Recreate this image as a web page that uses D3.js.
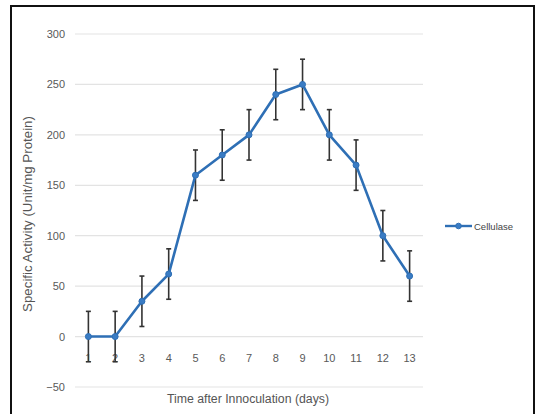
<!DOCTYPE html>
<html>
<head>
<meta charset="utf-8">
<script src="https://cdn.jsdelivr.net/npm/d3@7"></script>
<style>
  html, body { margin: 0; padding: 0; background: #fff; }
  svg { display: block; }
  text { font-family: "Liberation Sans", "DejaVu Sans", sans-serif; }
</style>
</head>
<body>
<svg id="chart" width="535" height="414"></svg>
<script>
// Cellulase specific activity over days after inoculation
const days = ["1", "2", "3", "4", "5", "6", "7", "8", "9", "10", "11", "12", "13"];
const activity = [0, 0, 35, 62, 160, 180, 200, 240, 250, 200, 170, 100, 60];
const errors = [25, 25, 25, 25, 25, 25, 25, 25, 25, 25, 25, 25, 25];
const yTicks = [-50, 0, 50, 100, 150, 200, 250, 300];
const seriesName = "Cellulase";

const svg = d3.select("#chart");

// Frame around the figure
svg.append("path")
  .attr("d", "M11,414 L11,6 L534,6 L534,414")
  .attr("fill", "none")
  .attr("stroke", "#111")
  .attr("stroke-width", 2);

const x = d3.scaleBand().domain(days).range([75, 423]);
const y = d3.scaleLinear().domain([-50, 300]).range([387, 34]);

// Horizontal gridlines
svg.append("g")
  .selectAll("line")
  .data(yTicks)
  .join("line")
  .attr("x1", 75).attr("x2", 423)
  .attr("y1", d => y(d)).attr("y2", d => y(d))
  .attr("stroke", "#e3e3e3")
  .attr("stroke-width", 1.2);

// Value axis labels
const yAxis = d3.axisLeft(y).tickValues(yTicks).tickSize(0).tickPadding(10);
const gy = svg.append("g").attr("transform", "translate(75,0)").call(yAxis);
gy.select(".domain").remove();
gy.selectAll("text").attr("fill", "#595959").attr("font-size", 11);

// Category axis labels sit just below the zero line
const xAxis = d3.axisBottom(x).tickSize(0).tickPadding(18);
const gx = svg.append("g").attr("transform", `translate(0,${y(0)})`).call(xAxis);
gx.select(".domain").remove();
gx.selectAll("text").attr("fill", "#595959").attr("font-size", 11);

const cx = (d, i) => x(days[i]) + x.bandwidth() / 2;

// Error bars
const eb = svg.append("g").attr("stroke", "#333").attr("stroke-width", 1.6);
activity.forEach((v, i) => {
  const px = cx(v, i);
  eb.append("line").attr("x1", px).attr("x2", px)
    .attr("y1", y(v - errors[i])).attr("y2", y(v + errors[i]));
  eb.append("line").attr("x1", px - 2.5).attr("x2", px + 2.5)
    .attr("y1", y(v - errors[i])).attr("y2", y(v - errors[i]));
  eb.append("line").attr("x1", px - 2.5).attr("x2", px + 2.5)
    .attr("y1", y(v + errors[i])).attr("y2", y(v + errors[i]));
});

// Series line and markers
const line = d3.line().x(cx).y(d => y(d));
svg.append("path")
  .datum(activity)
  .attr("d", line)
  .attr("fill", "none")
  .attr("stroke", "#2e6fb5")
  .attr("stroke-width", 2.6)
  .attr("stroke-linejoin", "round");

svg.append("g")
  .selectAll("circle")
  .data(activity)
  .join("circle")
  .attr("cx", cx)
  .attr("cy", d => y(d))
  .attr("r", 3)
  .attr("fill", "#3a7cc4")
  .attr("stroke", "#2e6fb5");

// Legend
const lg = svg.append("g").attr("transform", "translate(445,226)");
lg.append("line").attr("x1", 0).attr("x2", 27).attr("y1", 0).attr("y2", 0)
  .attr("stroke", "#2e6fb5").attr("stroke-width", 2.4);
lg.append("circle").attr("cx", 13.5).attr("cy", 0).attr("r", 2.8)
  .attr("fill", "#3a7cc4").attr("stroke", "#2e6fb5");
lg.append("text").attr("x", 29).attr("y", 3.5)
  .attr("font-size", 9.5).attr("fill", "#444").text(seriesName);

// Axis titles
svg.append("text")
  .attr("x", 248).attr("y", 403)
  .attr("text-anchor", "middle")
  .attr("font-size", 12.3).attr("fill", "#555")
  .text("Time after Innoculation (days)");

svg.append("text")
  .attr("transform", "translate(32,214) rotate(-90)")
  .attr("text-anchor", "middle")
  .attr("font-size", 13.3).attr("fill", "#555")
  .text("Specific Activity (Unit/mg Protein)");
</script>
</body>
</html>
